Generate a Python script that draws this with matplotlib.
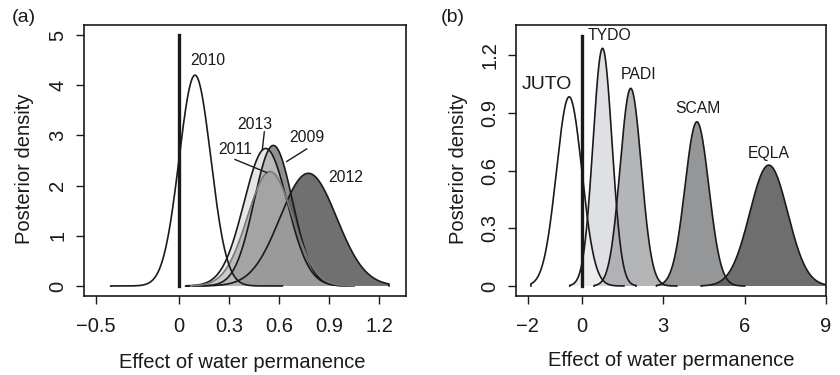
import numpy as np
import matplotlib
matplotlib.use("Agg")
import matplotlib.pyplot as plt

plt.rcParams['font.family'] = ['Liberation Sans', 'DejaVu Sans']

# ---------------- Panel (a): years ----------------
years = ["2009", "2012", "2013", "2011", "2010"]
a_peak_x = [0.566, 0.776, 0.52, 0.546, 0.096]
a_peak_y = [2.80, 2.245, 2.74, 2.28, 4.20]
a_sd = [0.115, 0.17, 0.13, 0.135, 0.095]
a_lo = [0.05, 0.05, 0.04, 0.07, -0.41]
a_hi = [1.05, 1.26, 1.03, 1.05, 0.62]
a_fill = ["#858585", "#575757", "#d6d6d6", "#909090", "#ffffff"]
a_alpha = [0.9, 0.85, 0.6, 0.5, 0.25]
a_edge = ["#1a1a1a", "#1a1a1a", "#1a1a1a", "#7a7a7a", "#1a1a1a"]

a_lab_text = ["2010", "2013", "2011", "2009", "2012"]
a_lab_x = [0.17, 0.456, 0.336, 0.77, 1.0]
a_lab_y = [4.50, 3.22, 2.72, 2.95, 2.17]
a_lead_x0 = [None, 0.512, 0.336, 0.766, None]
a_lead_y0 = [None, 3.07, 2.52, 2.73, None]
a_lead_x1 = [None, 0.500, 0.526, 0.646, None]
a_lead_y1 = [None, 2.72, 2.26, 2.48, None]

a_xticks = [-0.5, 0, 0.3, 0.6, 0.9, 1.2]
a_xticklabels = ["\u22120.5", "0", "0.3", "0.6", "0.9", "1.2"]
a_yticks = [0, 1, 2, 3, 4, 5]
a_yticklabels = ["0", "1", "2", "3", "4", "5"]
a_vline_top = 5.0

# ---------------- Panel (b): species ----------------
species = ["TYDO", "PADI", "SCAM", "EQLA", "JUTO"]
b_peak_x = [0.76, 1.80, 4.24, 6.89, -0.47]
b_peak_y = [1.235, 1.027, 0.853, 0.628, 0.983]
b_sd = [0.35, 0.39, 0.44, 0.70, 0.47]
b_lo = [-0.45, 0.45, 2.75, 4.4, -1.88]
b_hi = [2.0, 3.5, 6.0, 9.0, 1.55]
b_fill = ["#dcdde0", "#acadb0", "#8a8b8d", "#5e5e5e", "#ffffff"]
b_alpha = [0.9, 0.9, 0.9, 0.9, 0.45]

b_lab_text = ["JUTO", "TYDO", "PADI", "SCAM", "EQLA"]
b_lab_x = [-1.29, 1.0, 2.1, 4.28, 6.9]
b_lab_y = [1.045, 1.30, 1.10, 0.92, 0.69]
b_lab_size = [14, 11.3, 11.3, 11.3, 11.3]

b_xticks = [-2, 0, 3, 6, 9]
b_xticklabels = ["\u22122", "0", "3", "6", "9"]
b_yticks = [0, 0.3, 0.6, 0.9, 1.2]
b_yticklabels = ["0", "0.3", "0.6", "0.9", "1.2"]
b_vline_top = 1.3

W, H = 840, 375
fig = plt.figure(figsize=(W / 100, H / 100), dpi=100)
axA = fig.add_axes([84 / W, 1 - 296 / H, (406 - 84) / W, (296 - 25) / H])
axB = fig.add_axes([516 / W, 1 - 296 / H, (826 - 516) / W, (296 - 25) / H])


def draw_curve(ax, mu, h, sd, lo, hi, fc, alpha, ec):
    xs = np.linspace(lo, hi, 400)
    ys = h * np.exp(-0.5 * ((xs - mu) / sd) ** 2)
    px = np.concatenate([[lo], xs, [hi]])
    py = np.concatenate([[0], ys, [0]])
    ax.fill(px, py, facecolor=fc, alpha=alpha, edgecolor='none', zorder=2)
    ax.plot(px, py, color=ec, lw=1.2, zorder=3)


for i in range(len(years)):
    draw_curve(axA, a_peak_x[i], a_peak_y[i], a_sd[i], a_lo[i], a_hi[i],
               a_fill[i], a_alpha[i], a_edge[i])
axA.plot([0, 0], [0, a_vline_top], color='#1a1a1a', lw=2.4, zorder=4)
for i, t in enumerate(a_lab_text):
    axA.text(a_lab_x[i], a_lab_y[i], t, fontsize=11.3, ha='center', va='center', color='#1a1a1a')
    if a_lead_x0[i] is not None:
        axA.plot([a_lead_x0[i], a_lead_x1[i]], [a_lead_y0[i], a_lead_y1[i]], color='#1a1a1a', lw=1.0, zorder=5)

for i in range(len(species)):
    draw_curve(axB, b_peak_x[i], b_peak_y[i], b_sd[i], b_lo[i], b_hi[i],
               b_fill[i], b_alpha[i], '#1a1a1a')
axB.plot([0, 0], [0, b_vline_top], color='#1a1a1a', lw=2.4, zorder=4)
for i, t in enumerate(b_lab_text):
    axB.text(b_lab_x[i], b_lab_y[i], t, fontsize=b_lab_size[i], ha='center', va='center', color='#1a1a1a')

axA.set_xlim(-0.57, 1.362)
axA.set_ylim(-0.2, 5.2)
axB.set_xlim(-2.43, 9.0)
axB.set_ylim(-0.052, 1.356)

for ax, xt, xtl, yt, ytl in [(axA, a_xticks, a_xticklabels, a_yticks, a_yticklabels),
                             (axB, b_xticks, b_xticklabels, b_yticks, b_yticklabels)]:
    ax.set_xticks(xt)
    ax.set_xticklabels(xtl)
    ax.set_yticks(yt)
    ax.set_yticklabels(ytl, rotation=90, va='center')
    ax.tick_params(axis='both', direction='out', length=6, width=1.0, labelsize=14.5,
                   color='#1a1a1a', labelcolor='#1a1a1a')
    ax.tick_params(axis='x', pad=9)
    ax.tick_params(axis='y', pad=6)
    for s in ax.spines.values():
        s.set_linewidth(1.2)
        s.set_color('#1a1a1a')
    ax.set_xlabel("Effect of water permanence", fontsize=14.5, color='#1a1a1a')
    ax.set_ylabel("Posterior density", fontsize=14.5, color='#1a1a1a')
    ax.xaxis.label.set_va('center')
    ax.yaxis.label.set_va('center')

axA.xaxis.set_label_coords(0.49, (1 - 363 / H - (1 - 296 / H)) / ((296 - 25) / H))
axB.xaxis.set_label_coords(0.5, (1 - 360 / H - (1 - 296 / H)) / ((296 - 25) / H))
axA.yaxis.set_label_coords((25 - 84) / (406 - 84), 0.47)
axB.yaxis.set_label_coords((458 - 516) / (826 - 516), 0.47)

fig.text(24 / W, 1 - 18 / H, "(a)", fontsize=14, ha='center', va='center', color='#1a1a1a')
fig.text(453 / W, 1 - 17 / H, "(b)", fontsize=14, ha='center', va='center', color='#1a1a1a')

fig.savefig("out.png", dpi=100, facecolor='white')
